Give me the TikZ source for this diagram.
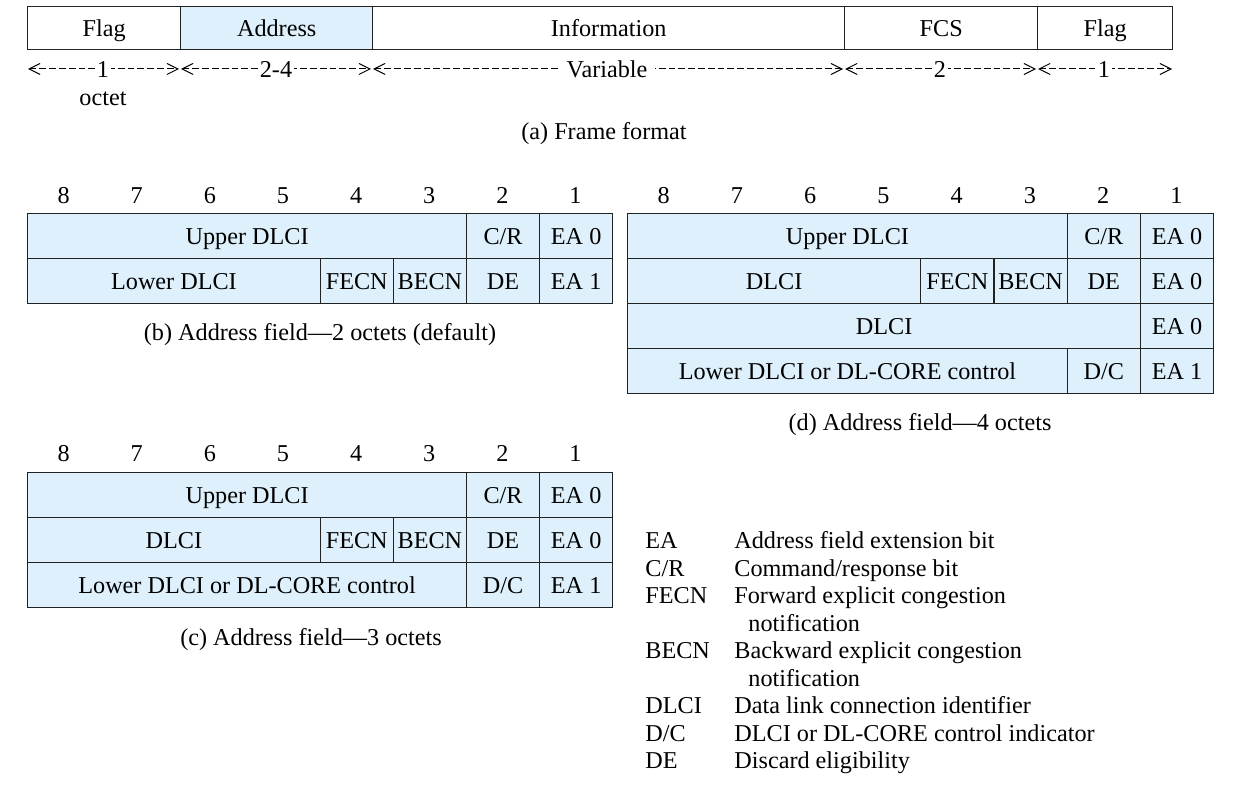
\documentclass[tikz,border=0pt]{standalone}
\usepackage{fontspec}
\setmainfont{Liberation Serif}
\usetikzlibrary{arrows.meta}
\definecolor{cellblue}{HTML}{DDF0FB}
\definecolor{rule}{HTML}{222222}
\tikzset{
  cell/.style={draw=rule, line width=0.7pt, fill=cellblue, inner sep=0pt,
    minimum height=22.5pt, anchor=north west, text height=10.3pt, text depth=1.6pt,
    font=\fontsize{12.1}{14}\selectfont},
  topcell/.style={cell, minimum height=21.5pt},
  wcell/.style={topcell, fill=white},
  lbl/.style={inner sep=0pt, text height=10.3pt, text depth=1.6pt, font=\fontsize{12.1}{14}\selectfont},
  dim/.style={draw=black, line width=0.5pt, dash pattern=on 3.4pt off 1.5pt,
    {Straight Barb[length=5.5pt,width=5.5pt,line width=0.5pt]}-{Straight Barb[length=5.5pt,width=5.5pt,line width=0.5pt]}},
  dimlbl/.style={lbl, fill=white, inner xsep=1pt, inner ysep=0.5pt}
}
% [style] name, x1, x2, ytop, text
\newcommand\fcell[6][cell]{%
  \pgfmathsetmacro\cw{(#4-#3)*0.5}%
  \node[#1, minimum width=\cw pt] (#2) at (#3,#5) {#6};}
\begin{document}
\begin{tikzpicture}[x=0.5pt,y=-0.5pt]
\useasboundingbox (0,0) rectangle (1240,785);

% ---------- (a) frame format ----------
\fcell[wcell]{fflag1}{27}{180}{6}{Flag}
\fcell[topcell]{faddr}{180}{372}{6}{Address}
\fcell[wcell]{finfo}{372}{844}{6}{Information}
\fcell[wcell]{ffcs}{844}{1037}{6}{FCS}
\fcell[wcell]{fflag2}{1037}{1172}{6}{Flag}

\coordinate (d0) at (28,69);
\coordinate (d1a) at (179,69);
\coordinate (d1b) at (181,69);
\coordinate (d2a) at (371,69);
\coordinate (d2b) at (373,69);
\coordinate (d3a) at (843,69);
\coordinate (d3b) at (845,69);
\coordinate (d4a) at (1036,69);
\coordinate (d4b) at (1038,69);
\coordinate (d5) at (1172,69);
\draw[dim] (d0) -- (d1a);
\draw[dim] (d1b) -- (d2a);
\draw[dim] (d2b) -- (d3a);
\draw[dim] (d3b) -- (d4a);
\draw[dim] (d4b) -- (d5);
\node[dimlbl] (l1) at (103,69) {1};
\node[dimlbl] (l2) at (276,69) {2-4};
\node[dimlbl, inner xsep=4pt] (l3) at (607,69) {Variable};
\node[dimlbl] (l4) at (940,69) {2};
\node[dimlbl] (l5) at (1104,69) {1};
\node[lbl] (octet) at (103,97) {octet};
\node[lbl] (capa) at (604,131) {(a) Frame format};

% ---------- bit numbers ----------
\foreach \k [evaluate=\k as \b using int(8-\k)] in {0,...,7}{
  \node[lbl] (bb\k) at (27+73.125*\k+36.56,195) {\b};
  \node[lbl] (bc\k) at (27+73.125*\k+36.56,453) {\b};
  \node[lbl] (bd\k) at (627+73.25*\k+36.62,195) {\b};
}

% ---------- (b) 2 octets ----------
\fcell{b11}{27}{465.75}{213}{Upper DLCI}
\fcell{b12}{465.75}{538.875}{213}{C/R}
\fcell{b13}{538.875}{612}{213}{EA 0}
\fcell{b21}{27}{319.5}{258}{Lower DLCI}
\fcell{b22}{319.5}{392.625}{258}{FECN}
\fcell{b23}{392.625}{465.75}{258}{BECN}
\fcell{b24}{465.75}{538.875}{258}{DE}
\fcell{b25}{538.875}{612}{258}{EA 1}
\node[lbl] (capb) at (320,332) {(b) Address field---2 octets (default)};

% ---------- (d) 4 octets ----------
\fcell{d11}{627}{1066.5}{213}{Upper DLCI}
\fcell{d12}{1066.5}{1139.75}{213}{C/R}
\fcell{d13}{1139.75}{1213}{213}{EA 0}
\fcell{d21}{627}{920}{258}{DLCI}
\fcell{d22}{920}{993.25}{258}{FECN}
\fcell{d23}{993.25}{1066.5}{258}{BECN}
\fcell{d24}{1066.5}{1139.75}{258}{DE}
\fcell{d25}{1139.75}{1213}{258}{EA 0}
\fcell{d31}{627}{1139.75}{303}{DLCI}
\fcell{d32}{1139.75}{1213}{303}{EA 0}
\fcell{d41}{627}{1066.5}{348}{Lower DLCI or DL-CORE control}
\fcell{d42}{1066.5}{1139.75}{348}{D/C}
\fcell{d43}{1139.75}{1213}{348}{EA 1}
\node[lbl] (capd) at (920,422) {(d) Address field---4 octets};

% ---------- (c) 3 octets ----------
\fcell{c11}{27}{465.75}{472}{Upper DLCI}
\fcell{c12}{465.75}{538.875}{472}{C/R}
\fcell{c13}{538.875}{612}{472}{EA 0}
\fcell{c21}{27}{319.5}{517}{DLCI}
\fcell{c22}{319.5}{392.625}{517}{FECN}
\fcell{c23}{392.625}{465.75}{517}{BECN}
\fcell{c24}{465.75}{538.875}{517}{DE}
\fcell{c25}{538.875}{612}{517}{EA 0}
\fcell{c31}{27}{465.75}{562}{Lower DLCI or DL-CORE control}
\fcell{c32}{465.75}{538.875}{562}{D/C}
\fcell{c33}{538.875}{612}{562}{EA 1}
\node[lbl] (capc) at (311,637) {(c) Address field---3 octets};

% ---------- legend ----------
\foreach \n/\y/\ab/\de in {
  1/540/EA/Address field extension bit,
  2/567.5/C\slash R/Command\slash response bit,
  3/595/FECN/Forward explicit congestion,
  5/650/BECN/Backward explicit congestion,
  7/705/DLCI/Data link connection identifier,
  8/732.5/D\slash C/DLCI or DL-CORE control indicator,
  9/760/DE/Discard eligibility}{
  \node[lbl, anchor=west] (ka\n) at (645,\y) {\ab};
  \node[lbl, anchor=west] (kd\n) at (734,\y) {\de};
}
\node[lbl, anchor=west] (kd4) at (748,622.5) {notification};
\node[lbl, anchor=west] (kd6) at (748,677.5) {notification};
\end{tikzpicture}
\end{document}
